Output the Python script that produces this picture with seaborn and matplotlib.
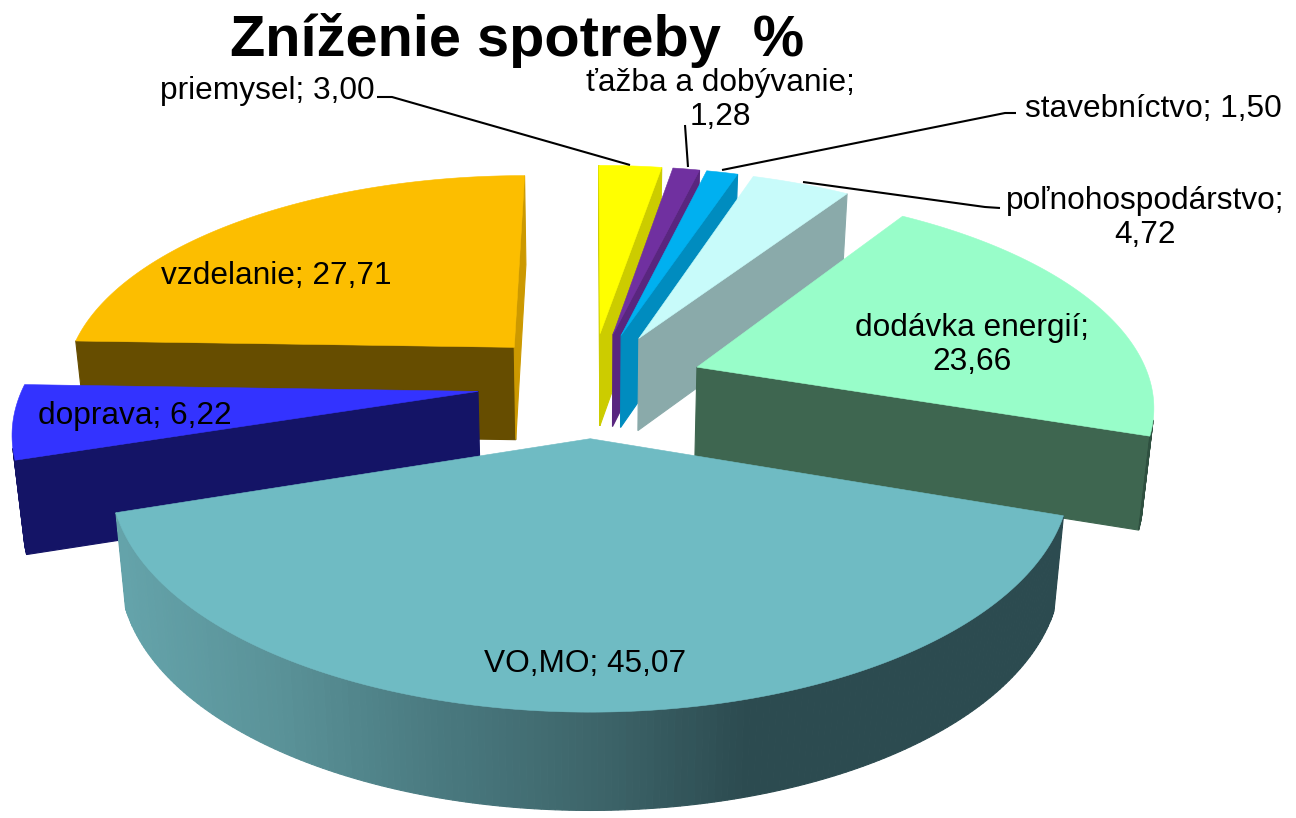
import numpy as np
import matplotlib
matplotlib.use("Agg")
import matplotlib.pyplot as plt
import seaborn as sns

# ---- data ----
categories = ["priemysel", "ťažba a dobývanie", "stavebníctvo", "poľnohospodárstvo",
              "dodávka energií", "VO,MO", "doprava", "vzdelanie"]
values = [3.00, 1.28, 1.50, 4.72, 23.66, 45.07, 6.22, 27.71]
title_text = "Zníženie spotreby  %"

# ---- styles ----
top_colors = ["#FFFF00", "#7030A0", "#00B0F0", "#C8FBFA", "#98FDC9", "#6FBBC3", "#3333FF", "#FCBE00"]
start_wall_colors = ["#CCCC00", "#59267F", "#008CBF", "#8AAAAA", "#3E6650", "#64A3AA", "#141466", "#664D00"]
end_wall_colors = ["#CCCC00", "#59267F", "#008CBF", "#8AAAAA", "#3E6650", "#2C4A4E", "#141466", "#CC9900"]
arc_wall_colors = ["#CCCC00", "#59267F", "#008CBF", "#8AAAAA", "#2F5040", None, "#141466", "#664D00"]
vo_gradient = ["#64A3AA", "#5A9298", "#4A7A80", "#3E666B", "#2C4B50", "#2C4B50", "#2C4B50"]
draw_order = [0, 1, 2, 3, 7, 4, 6, 5]
wrapped = [False, True, False, True, True, False, False, False]
label_xy = [(267, 91), (720, 100), (1153, 109), (1145, 218), (972, 345), (585, 664), (135, 416), (276, 276)]
leaders = [[(377, 97), (392, 97), (630, 165)],
           [(685, 125), (688, 167)],
           [(1016, 113), (1005, 113), (722, 170)],
           [(1000, 208), (985, 207), (803, 182)]]

# ---- projection of the exploded 3-D pie ----
CX, CY, A, B, K, EXPLODE, DEPTH, SHRINK = 591, 384, 454, 210, 0.16, 0.25, 93, 0.98


def project(u, v, lower=False):
    w = 1 + K * v
    x = CX + A * u / w
    y = CY - B * v / w
    if lower:
        x = CX + (x - CX) * SHRINK
        y = y + DEPTH / w ** 0.25
    return np.array([x, y])


def shoelace(poly):
    p = np.asarray(poly)
    x, y = p[:, 0], p[:, 1]
    return np.sum(x * np.roll(y, -1) - np.roll(x, -1) * y)


sns.set_theme(style="white")
plt.rcParams["font.family"] = ["Liberation Sans", "DejaVu Sans"]
top_palette = sns.color_palette(top_colors)

fig = plt.figure(figsize=(12.96, 8.18), dpi=100)
ax = fig.add_axes([0, 0, 1, 1])
ax.set_xlim(0, 1296)
ax.set_ylim(818, 0)
ax.axis("off")

total = sum(values)
edges = np.concatenate([[0], np.cumsum(values)]) / total * 2 * np.pi
grad = sns.blend_palette(vo_gradient, 256)


def face(p, q, color):
    quad = [project(*p), project(*q), project(*q, lower=True), project(*p, lower=True)]
    if shoelace(quad) < 0:
        ax.fill(*zip(*quad), color=color, lw=0.8, ec=color, zorder=1)


for i in draw_order:
    a0, a1 = edges[i], edges[i + 1]
    mid = (a0 + a1) / 2
    ox, oy = EXPLODE * np.sin(mid), EXPLODE * np.cos(mid)
    th = np.linspace(a0, a1, max(int((a1 - a0) * 80), 6))
    rim = [(ox + np.sin(t), oy + np.cos(t)) for t in th]
    apex = (ox, oy)
    # walls
    face(apex, rim[0], start_wall_colors[i])
    face(rim[-1], apex, end_wall_colors[i])
    for p, q in zip(rim[:-1], rim[1:]):
        if arc_wall_colors[i] is None:
            xm = project(*p)[0]
            col = grad[int(np.clip((xm - 120) / (1062 - 120), 0, 1) * 255)]
        else:
            col = arc_wall_colors[i]
        face(p, q, col)
    # top
    outline = [project(*apex)] + [project(*r) for r in rim]
    ax.fill(*zip(*outline), color=top_palette[i], lw=0.4, ec=top_palette[i], zorder=1)

ax.text(517, 41, title_text, ha="center", va="center", fontsize=41.6, fontweight="bold", color="black")

for name, val, wrap, (x, y) in zip(categories, values, wrapped, label_xy):
    num = f"{val:.2f}".replace(".", ",")
    s = f"{name};\n{num}" if wrap else f"{name}; {num}"
    ax.text(x, y, s, ha="center", va="center", fontsize=22.8, color="black", linespacing=1.16,
            multialignment="center", zorder=5)

for pts in leaders:
    ax.plot(*zip(*pts), color="black", lw=1.5, zorder=4, solid_capstyle="butt")

fig.savefig("out.png", dpi=100, facecolor="white")
